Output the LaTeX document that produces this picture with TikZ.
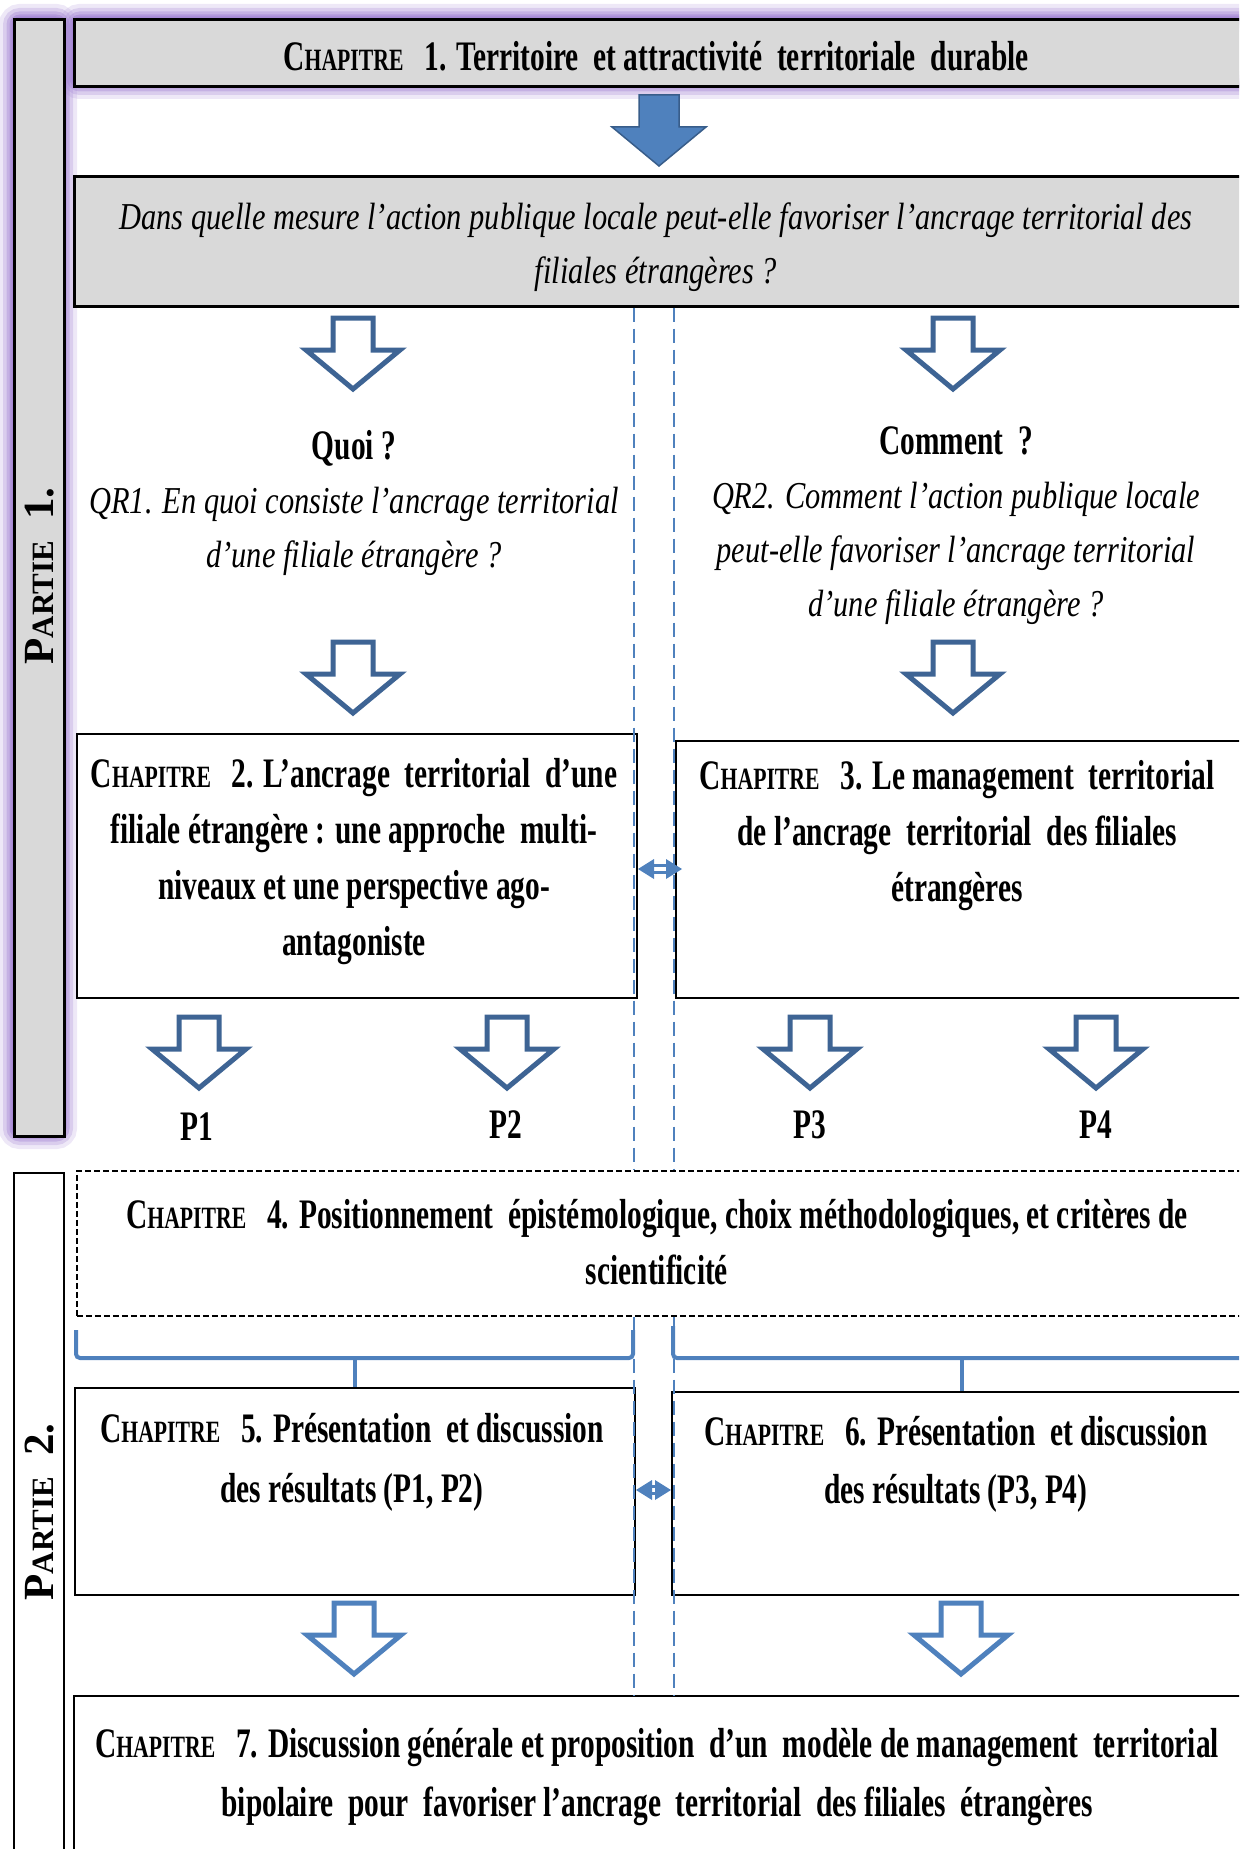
\documentclass[tikz,border=0pt]{standalone}
\usepackage{fontspec}
\setmainfont{Liberation Serif}[FakeStretch=0.70]
\newfontfamily\partfont{Liberation Serif}
\newfontfamily\quesfont{Liberation Serif}[FakeStretch=0.80]
\usetikzlibrary{calc}

\definecolor{greyfill}{HTML}{D9D9D9}
\definecolor{accent}{HTML}{4F81BD}
\definecolor{accentdark}{HTML}{3E6494}
\definecolor{accentedge}{HTML}{385D8A}
\definecolor{glowc}{RGB}{160,128,210}

% small-capital chapter and part labels
\newcommand\Chap{C{\fontsize{31}{31}\selectfont HAPITRE}\hspace{0.5em}}
\newcommand\Partie{P{\fontsize{31}{31}\selectfont ARTIE}}
% bold upright heading inside the question blocks
\newcommand\qhead[1]{{\normalfont\fontsize{42}{54}\selectfont\bfseries #1}}

% downward block arrow: centre x, top y, style
\newcommand\blockdown[3]{%
  \draw[#3] (#1-20,#2) -- (#1+20,#2) -- (#1+20,#2+32) -- (#1+47,#2+32)
    -- (#1,#2+71) -- (#1-47,#2+32) -- (#1-20,#2+32) -- cycle;}

% two-headed link between two coordinates
\newcommand\twoway[2]{%
  \fill[accent] (#1) -- ($(#1)+(16,10)$) -- ($(#1)+(16,-10)$) -- cycle;
  \fill[accent] (#2) -- ($(#2)+(-16,10)$) -- ($(#2)+(-16,-10)$) -- cycle;
  \draw[accent, line width=2.4pt] ($(#1)+(14,3.6)$) -- ($(#2)+(-14,3.6)$)
                                  ($(#1)+(14,-3.6)$) -- ($(#2)+(-14,-3.6)$);}

\tikzset{
  box/.style={draw=black, line width=2pt, fill=white, inner sep=0pt,
              anchor=north west, rectangle},
  greybox/.style={box, fill=greyfill, line width=2.6pt},
  dashbox/.style={box, line width=1.6pt, dash pattern=on 6pt off 3pt},
  chaptext/.style={align=center, inner sep=0pt,
                   font=\fontsize{42}{56}\selectfont\bfseries},
  questext/.style={align=center, inner sep=0pt,
                   font=\quesfont\fontsize{38}{54}\selectfont\itshape},
  parttext/.style={rotate=90, inner sep=0pt,
                   font=\partfont\fontsize{43}{43}\selectfont\bfseries},
  plabel/.style={inner sep=0pt, font=\fontsize{42}{42}\selectfont\bfseries},
  openarrow/.style={draw=accentdark, line width=5pt, fill=white, line join=miter},
  openarrowlight/.style={draw=accent, line width=5pt, fill=white, line join=miter},
  solidarrow/.style={draw=accentedge, line width=1.5pt, fill=accent, line join=miter},
  guide/.style={accent, line width=1.4pt, dash pattern=on 14pt off 7pt},
  brace/.style={accent, line width=4pt, rounded corners=4pt},
}

\begin{document}
\begin{tikzpicture}[x=1pt, y=-1pt]
\useasboundingbox (0,0) rectangle (1239,1849);
\clip (0,0) rectangle (1239,1849);

% soft lavender halo round the first part
\foreach \lw/\op in {28/0.18, 20/0.26, 13/0.36, 7/0.5, 3/0.6} {
  \draw[glowc, line width=\lw pt, opacity=\op, rounded corners=7pt]
    (13,18) rectangle (63,1135);
  \draw[glowc, line width=\lw pt, opacity=\op, rounded corners=7pt]
    (73,18) rectangle (1270,85);
}

% part bars
\node[greybox, minimum width=50pt, minimum height=1117pt] (p1bar) at (13,18) {};
\node[box, minimum width=50pt, minimum height=700pt] (p2bar) at (13,1172) {};
\node[parttext] (p1t) at (40,576) {\Partie\ \ 1.};
\node[parttext] (p2t) at (40,1512) {\Partie\ \ 2.};

% chapter 1 and the central question
\node[greybox, minimum width=1190pt, minimum height=67pt] (ch1) at (73,18) {};
\node[chaptext] (ch1t) at (656,56) {\Chap 1. Territoire\ \ et attractivité\ \ territoriale\ \ durable};
\blockdown{659}{95}{solidarrow}
\node[greybox, minimum width=1190pt, minimum height=130pt] (q) at (73,175) {};
\node[questext] (qt) at (656,247) {Dans quelle mesure l’action publique locale peut-elle favoriser l’ancrage territorial des\\ filiales\ étrangères ?};

% research questions
\blockdown{353}{318}{openarrow}
\blockdown{953}{318}{openarrow}
\node[questext] (qr1) at (354,503) {\qhead{Quoi ?}\\ QR1. En quoi consiste l’ancrage territorial\\ d’une filiale\ étrangère ?};
\node[questext] (qr2) at (956,526) {\qhead{Comment\ \ ?}\\ QR2. Comment l’action publique locale\\ peut-elle favoriser l’ancrage territorial\\ d’une filiale\ étrangère ?};
\blockdown{353}{642}{openarrow}
\blockdown{953}{642}{openarrow}

% chapters 2 and 3
\node[box, minimum width=560pt, minimum height=264pt] (ch2) at (76,733) {};
\node[box, minimum width=575pt, minimum height=257pt] (ch3) at (675,740) {};
\node[chaptext] (ch2t) at (354,862) {\Chap 2. L’ancrage\ \ territorial\ \ d’une\\ filiale étrangère : une\ approche\ \ multi-\\ niveaux et une perspective ago-\\ antagoniste};
\node[chaptext] (ch3t) at (957,836) {\Chap 3. Le management\ \ territorial\\ de l’ancrage\ \ territorial\ \ des filiales\\ étrangères};

% propositions
\blockdown{199}{1017}{openarrow}
\blockdown{507}{1017}{openarrow}
\blockdown{810}{1017}{openarrow}
\blockdown{1096}{1017}{openarrow}
\node[plabel] (pa) at (197,1127) {P1};
\node[plabel] (pb) at (506,1125) {P2};
\node[plabel] (pc) at (810,1125) {P3};
\node[plabel] (pd) at (1096,1125) {P4};

% chapter 4
\node[dashbox, minimum width=1190pt, minimum height=145pt] (ch4) at (76,1170) {};
\node[chaptext] (ch4t) at (657,1242) {\Chap 4. Positionnement\ \ épistémologique,\ choix méthodologiques,\ et critères de\\ scientificité};

% chapters 5 and 6
\node[box, minimum width=560pt, minimum height=207pt] (ch5) at (74,1387) {};
\node[box, minimum width=590pt, minimum height=203pt] (ch6) at (671,1391) {};
\node[chaptext, font=\fontsize{42}{60}\selectfont\bfseries] (ch5t) at (352,1462) {\Chap 5. Présentation\ \ et discussion\\ des résultats (P1, P2)};
\node[chaptext, font=\fontsize{42}{58}\selectfont\bfseries] (ch6t) at (956,1464) {\Chap 6. Présentation\ \ et discussion\\ des résultats (P3, P4)};

% braces gathering chapter 4 into chapters 5 and 6
\draw[brace] (ch4.south west |- 0,1330) -- (76,1358) -- (633,1358) -- (633,1330);
\draw[brace] (ch5.north) -- (ch5.north |- 0,1358);
\draw[brace] (673,1326) -- (673,1358) -- (1260,1358);
\draw[brace] (ch6.north -| 962,0) -- (962,1358);

% chapter 7
\blockdown{354}{1603}{openarrowlight}
\blockdown{961}{1603}{openarrowlight}
\node[box, minimum width=1190pt, minimum height=180pt] (ch7) at (73,1695) {};
\node[chaptext, font=\fontsize{42}{59}\selectfont\bfseries] (ch7t) at (657,1777) {\Chap 7. Discussion générale et proposition\ \ d’un\ \ modèle de management\ \ territorial\\ bipolaire\ \ pour\ \ favoriser l’ancrage\ \ territorial\ \ des filiales\ \ étrangères};

% dashed guides between the two columns
\coordinate (gl) at (634,0);
\coordinate (gr) at (674,0);
\draw[guide] (gl |- q.south) -- (gl |- ch4.north);
\draw[guide] (gr |- q.south) -- (gr |- ch4.north);
\draw[guide] (gl |- ch4.south) -- (gl |- ch7.north);
\draw[guide] (gr |- ch4.south) -- (gr |- ch7.north);

% two-way links between the paired chapters
\coordinate (ya) at (0,869);
\coordinate (yb) at (0,1490);
\coordinate (l1) at (ch2.east |- ya);
\coordinate (r1) at (682,869);
\coordinate (l2) at (ch5.east |- yb);
\coordinate (r2) at (ch6.west |- yb);
\twoway{l1}{r1}
\twoway{l2}{r2}
\end{tikzpicture}
\end{document}
